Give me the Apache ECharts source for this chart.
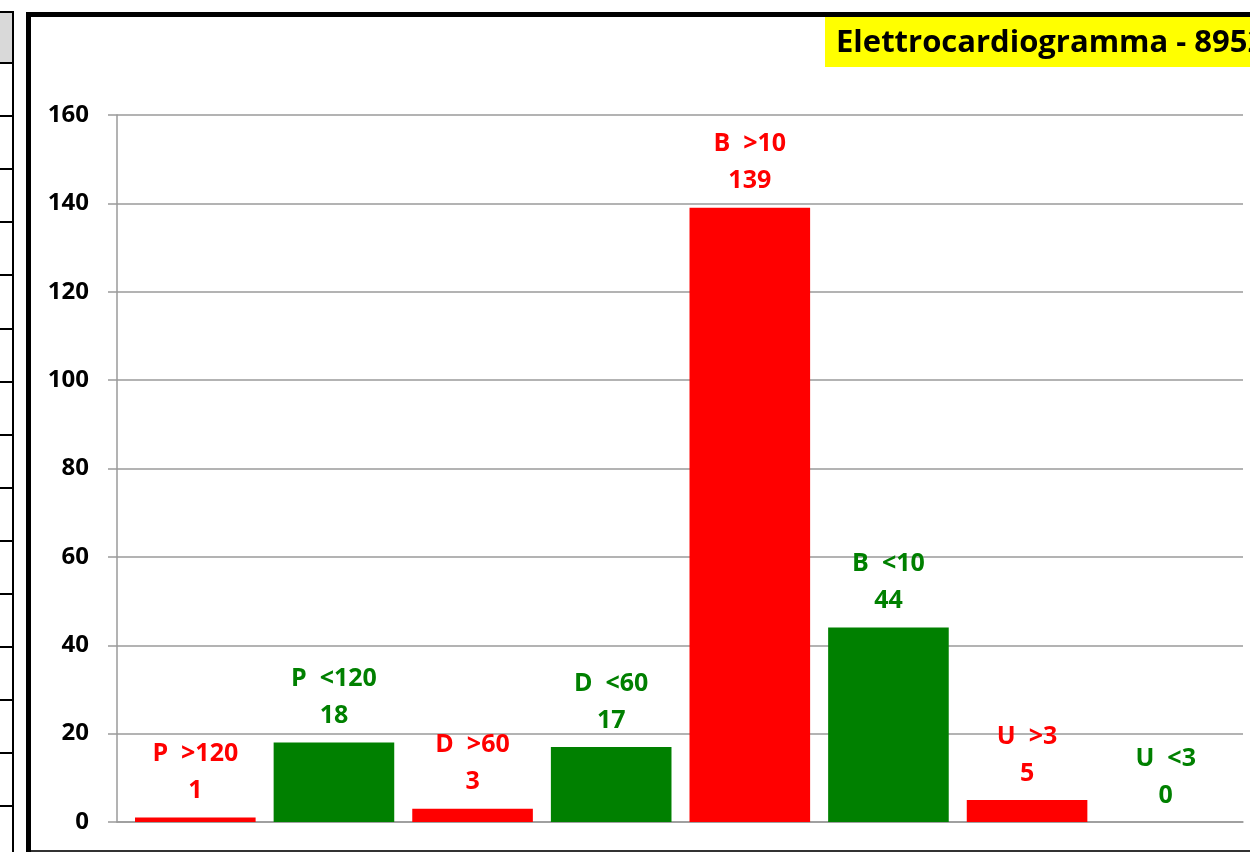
<!DOCTYPE html>
<html>
<head>
<meta charset="utf-8">
<title>Elettrocardiogramma</title>
<script src="https://cdn.jsdelivr.net/npm/echarts@6/dist/echarts.min.js"></script>
<style>
    html, body { margin: 0; padding: 0; background: #fff; }
    #main { width: 1250px; height: 852px; }
</style>
</head>
<body>
<div id="main"></div>
<script>
// categorie e valori
var categorie = ['P  >120', 'P  <120', 'D  >60', 'D  <60', 'B  >10', 'B  <10', 'U  >3', 'U  <3'];
var valori = [1, 18, 3, 17, 139, 44, 5, 0];
var colori = ['#FF0000', '#008000', '#FF0000', '#008000', '#FF0000', '#008000', '#FF0000', '#008000'];
var tickY = [0, 20, 40, 60, 80, 100, 120, 140, 160];

(function () {
    var myChart = echarts.init(document.getElementById('main'));
    var font = '"Open Sans", "DejaVu Sans", sans-serif';

    // righe del foglio a sinistra
    var decor = [
        { type: 'rect', shape: { x: 0, y: 12, width: 13, height: 51 }, style: { fill: '#d9d9d9' } },
        { type: 'rect', shape: { x: 0, y: 11, width: 14, height: 2 }, style: { fill: '#000' } },
        { type: 'rect', shape: { x: 12, y: 11, width: 2, height: 841 }, style: { fill: '#000' } },
        // cornice del grafico
        { type: 'rect', shape: { x: 26, y: 12, width: 5, height: 840 }, style: { fill: '#000' } },
        { type: 'rect', shape: { x: 26, y: 12, width: 1224, height: 5 }, style: { fill: '#000' } },
        { type: 'rect', shape: { x: 31, y: 850, width: 1219, height: 2 }, style: { fill: '#333' } }
    ];
    for (var i = 0; i < 15; i++) {
        decor.push({ type: 'rect', shape: { x: 0, y: Math.round(62 + i * 53.1), width: 13, height: 2 }, style: { fill: '#000' } });
    }

    option = {
        backgroundColor: '#fff',
        animation: false,
        title: {
            text: 'Elettrocardiogramma - 8952 esami',
            left: 825,
            top: 17,
            padding: [2, 40, 0, 11],
            backgroundColor: '#FFFF00',
            textStyle: {
                fontFamily: font,
                fontSize: 31,
                fontWeight: 'bold',
                color: '#000',
                lineHeight: 48
            }
        },
        graphic: decor,
        grid: [
            { left: 117, right: 7, top: 115, bottom: 30 },
            { left: 126, right: 15, top: 115, bottom: 30 }
        ],
        xAxis: [
            {
                gridIndex: 0,
                type: 'category',
                data: categorie,
                axisLine: { show: true, lineStyle: { color: '#9a9a9a', width: 1.5 } },
                axisTick: { show: false },
                axisLabel: { show: false }
            },
            {
                gridIndex: 1,
                type: 'category',
                data: categorie,
                show: false
            }
        ],
        yAxis: [
            {
                gridIndex: 0,
                type: 'value',
                min: tickY[0],
                max: tickY[tickY.length - 1],
                interval: 20,
                axisLine: { show: true, lineStyle: { color: '#9a9a9a', width: 1.5 } },
                axisTick: { show: true, length: 9, lineStyle: { color: '#9a9a9a', width: 1.5 } },
                splitLine: { show: true, lineStyle: { color: '#9a9a9a', width: 1.5 } },
                axisLabel: {
                    margin: 28,
                    fontFamily: font,
                    fontSize: 24,
                    fontWeight: 'bold',
                    color: '#000'
                }
            },
            {
                gridIndex: 1,
                type: 'value',
                min: tickY[0],
                max: tickY[tickY.length - 1],
                show: false
            }
        ],
        series: [
            {
                name: 'Elettrocardiogramma',
                type: 'bar',
                xAxisIndex: 1,
                yAxisIndex: 1,
                barCategoryGap: '13%',
                data: valori.map(function (v, i) {
                    return {
                        value: v,
                        itemStyle: { color: colori[i] },
                        label: { color: colori[i] }
                    };
                }),
                label: {
                    show: true,
                    position: 'top',
                    distance: 8,
                    formatter: '{b}\n{c}',
                    fontFamily: font,
                    fontSize: 25,
                    fontWeight: 'bold',
                    lineHeight: 37,
                    align: 'center'
                }
            }
        ]
    };
    myChart.setOption(option);
})()
</script>
</body>
</html>
